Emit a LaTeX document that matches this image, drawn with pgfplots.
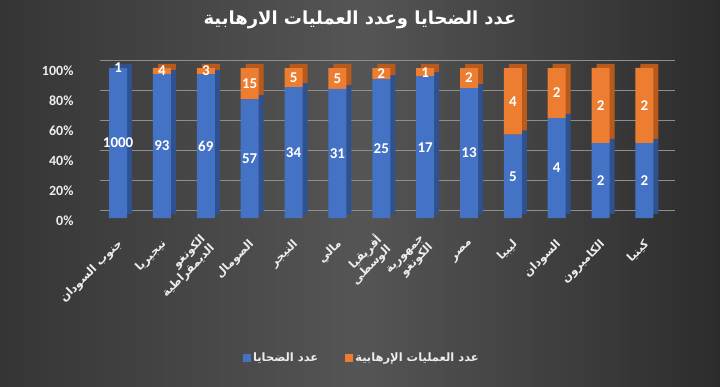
\documentclass[border=0pt]{standalone}
\usepackage{pgfplots}
\pgfplotsset{compat=1.18}
\usepackage{pgfplotstable}
\usepackage{fontspec}
\setmainfont{Carlito}
\newfontfamily\arabicfont[Script=Arabic]{DejaVu Sans}
\TeXXeTstate=1

\definecolor{cblue}{HTML}{4472C4}
\definecolor{cblueside}{HTML}{2F528F}
\definecolor{corange}{HTML}{ED7D31}
\definecolor{corangeside}{HTML}{B85A1C}
\definecolor{bgL}{HTML}{353535}
\definecolor{bgM}{HTML}{555555}
\definecolor{bgR}{HTML}{2C2C2C}
\definecolor{gridc}{HTML}{8E8E8E}
\definecolor{txt}{HTML}{EDEDED}

\pgfplotstableread{
x vic ops
0 1000 1
1 93 4
2 69 3
3 57 15
4 34 5
5 31 5
6 25 2
7 17 1
8 13 2
9 5 4
10 4 2
11 2 2
12 2 2
}\data

\pgfplotsset{base/.style={scale only axis, width=575pt, height=150pt,
  xmin=-0.55, xmax=12.56, ymin=0, ymax=100,
  axis line style={draw=none}, major tick length=0pt, anchor=south west}}

\begin{document}
\begin{tikzpicture}
\useasboundingbox (0pt,0pt) rectangle (720pt,386pt);
\shade[left color=bgL, right color=bgR, middle color=bgM] (0pt,0pt) rectangle (720pt,386pt);
\node[text=white, font=\arabicfont\bfseries\fontsize{18}{20}\selectfont] at (360pt,366pt)
  {\beginR عدد الضحايا وعدد العمليات الارهابية\endR};

% back wall grid (thin filled strips at the 20% levels)
\begin{axis}[base, at={(100pt,176pt)}, axis lines=none, clip=false]
\addplot[fill=gridc, draw=none, mark=none, forget plot] coordinates {(-0.55,-0.3) (12.56,-0.3) (12.56,0.3) (-0.55,0.3)} -- cycle;
\addplot[fill=gridc, draw=none, mark=none, forget plot] coordinates {(-0.55,19.7) (12.56,19.7) (12.56,20.3) (-0.55,20.3)} -- cycle;
\addplot[fill=gridc, draw=none, mark=none, forget plot] coordinates {(-0.55,39.7) (12.56,39.7) (12.56,40.3) (-0.55,40.3)} -- cycle;
\addplot[fill=gridc, draw=none, mark=none, forget plot] coordinates {(-0.55,59.7) (12.56,59.7) (12.56,60.3) (-0.55,60.3)} -- cycle;
\addplot[fill=gridc, draw=none, mark=none, forget plot] coordinates {(-0.55,79.7) (12.56,79.7) (12.56,80.3) (-0.55,80.3)} -- cycle;
\addplot[fill=gridc, draw=none, mark=none, forget plot] coordinates {(-0.55,99.7) (12.56,99.7) (12.56,100.3) (-0.55,100.3)} -- cycle;
\end{axis}

% side faces of the bars
\begin{axis}[base, at={(99pt,172pt)}, ybar stacked, bar width=18pt, axis lines=none, clip=false]
\addplot[fill=cblueside, draw=none] table[x=x, y expr={\thisrow{vic}/(\thisrow{vic}+\thisrow{ops})*100}]{\data};
\addplot[fill=corangeside, draw=none] table[x=x, y expr={\thisrow{ops}/(\thisrow{vic}+\thisrow{ops})*100}]{\data};
\end{axis}

% front faces
\begin{axis}[base, at={(94pt,168pt)}, ybar stacked, bar width=18pt, clip=false,
  xtick={0,...,12},
  xticklabels={
    {\beginR جنوب السودان\endR},
    {\beginR نيجيريا\endR},
    {\beginR الكونغو\endR\\\beginR الديمقراطية\endR},
    {\beginR الصومال\endR},
    {\beginR النيجر\endR},
    {\beginR مالي\endR},
    {\beginR أفريقيا\endR\\\beginR الوسطى\endR},
    {\beginR جمهورية\endR\\\beginR الكونغو\endR},
    {\beginR مصر\endR},
    {\beginR ليبيا\endR},
    {\beginR السودان\endR},
    {\beginR الكاميرون\endR},
    {\beginR كينيا\endR}},
  x tick label style={font=\arabicfont\bfseries\fontsize{11.5}{13}\selectfont, text=txt,
    rotate=45, anchor=east, align=right, yshift=-19pt, xshift=-12pt},
  ytick={0,20,...,100},
  yticklabel={\pgfmathprintnumber{\tick}\%},
  y tick label style={font=\bfseries\fontsize{14}{16}\selectfont, text=txt, xshift=-17pt, yshift=-3pt},
  /pgf/number format/assume math mode=true,
  legend style={draw=none, fill=none, at={(0.466,-0.933)}, anchor=center,
    legend columns=2, text=txt, font=\arabicfont\bfseries\fontsize{11.5}{13}\selectfont,
    /tikz/every even column/.append style={column sep=25pt}},
  legend image code/.code={\draw[#1,draw=none] (0pt,-4pt) rectangle (8pt,4pt);}
]
\addplot[fill=cblue, draw=none] table[x=x, y expr={\thisrow{vic}/(\thisrow{vic}+\thisrow{ops})*100}]{\data};
\addlegendentry{\beginR عدد الضحايا\endR}
\addplot[fill=corange, draw=none] table[x=x, y expr={\thisrow{ops}/(\thisrow{vic}+\thisrow{ops})*100}]{\data};
\addlegendentry{\beginR عدد العمليات الإرهابية\endR}
\end{axis}

% data labels
\begin{axis}[base, at={(94pt,168pt)}, axis lines=none, clip=false]
\addplot[only marks, mark=none, nodes near coords, point meta=explicit symbolic,
  nodes near coords style={anchor=center, text=white, font=\bfseries\fontsize{15}{17}\selectfont}]
  table[x=x, y expr={\thisrow{vic}/(\thisrow{vic}+\thisrow{ops})*50}, meta=vic]{\data};
\addplot[only marks, mark=none, nodes near coords, point meta=explicit symbolic,
  nodes near coords style={anchor=center, text=white, font=\bfseries\fontsize{15}{17}\selectfont}]
  table[x=x, y expr={100-\thisrow{ops}/(\thisrow{vic}+\thisrow{ops})*50}, meta=ops]{\data};
\end{axis}
\end{tikzpicture}
\end{document}
